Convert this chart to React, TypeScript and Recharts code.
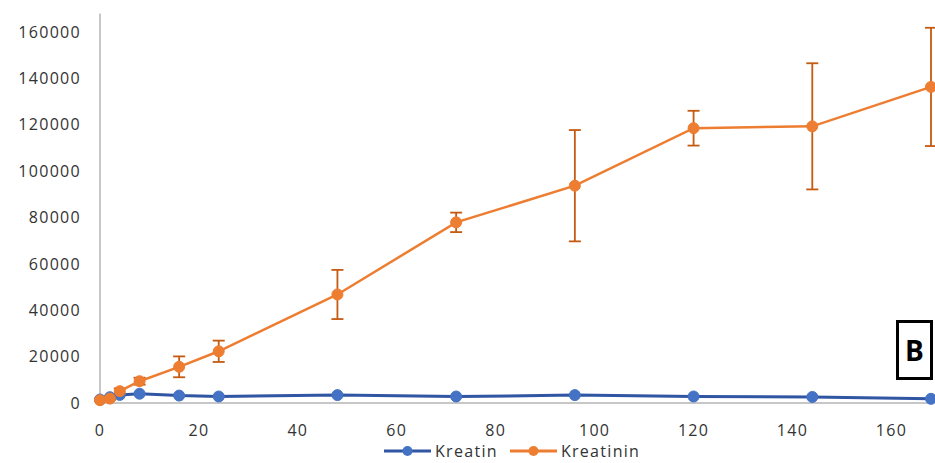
import React from "react";
import { LineChart, Line, XAxis, YAxis, ErrorBar, Legend } from "recharts";

const hours = [0, 2, 4, 8, 16, 24, 48, 72, 96, 120, 144, 168];
const kreatin = [1500, 2500, 3500, 4000, 3200, 2800, 3400, 2800, 3400, 2800, 2600, 1800];
const kreatinin = [1200, 1900, 5100, 9400, 15600, 22300, 46800, 77900, 93700, 118500, 119300, 136300];
const kreatininErr = [300, 500, 1200, 1500, 4500, 4600, 10600, 4200, 24000, 7500, 27200, 25500];
const xTicks = [0, 20, 40, 60, 80, 100, 120, 140, 160];
const yTicks = [0, 20000, 40000, 60000, 80000, 100000, 120000, 140000, 160000];

const data = hours.map((t, i) => ({
  t,
  kreatin: kreatin[i],
  kreatinin: kreatinin[i],
  err: kreatininErr[i],
}));

const BLUE_LINE = "#2F55A3";
const BLUE_DOT = "#4472C4";
const ORANGE = "#ED7D31";
const ORANGE_DARK = "#C55A11";
const FONT = "'Open Sans', sans-serif";
const TEXT = "#333333";

const tickStyle = { fill: TEXT, fontSize: 16, fontFamily: FONT, letterSpacing: 1.3 };

const LegendContent = () => {
  const item = (color: string, dot: string, label: string, gap: number) => (
    <div style={{ display: "flex", alignItems: "center", marginRight: gap }}>
      <svg width={47} height={12} style={{ marginRight: 4 }}>
        <line x1={0} y1={6} x2={47} y2={6} stroke={color} strokeWidth={3} />
        <circle cx={23.5} cy={6} r={5} fill={dot} />
      </svg>
      <span style={{ fontFamily: FONT, fontSize: 16, letterSpacing: 1.3, color: TEXT }}>{label}</span>
    </div>
  );
  return (
    <div
      style={{
        height: 28,
        boxSizing: "border-box",
        paddingTop: 4,
        paddingLeft: 384,
        display: "flex",
        alignItems: "center",
      }}
    >
      {item(BLUE_LINE, BLUE_DOT, "Kreatin", 12)}
      {item(ORANGE, ORANGE, "Kreatinin", 0)}
    </div>
  );
};

export default function App() {
  return (
    <div style={{ position: "absolute", left: 0, top: 0, width: 935, height: 463, background: "#fff" }}>
      <LineChart
        width={935}
        height={463}
        data={data}
        margin={{ top: 13.4, right: 4, left: 0, bottom: 0 }}
      >
        <XAxis
          type="number"
          dataKey="t"
          domain={[0, 168]}
          ticks={xTicks}
          tickLine={false}
          tickSize={0}
          tickMargin={22}
          height={32}
          axisLine={{ stroke: "#B4B4B4", strokeWidth: 1.5 }}
          tick={tickStyle}
          interval={0}
        />
        <YAxis
          type="number"
          domain={[0, 168000]}
          ticks={yTicks}
          width={100}
          tickLine={false}
          tickSize={0}
          tickMargin={19}
          axisLine={{ stroke: "#B4B4B4", strokeWidth: 1.5 }}
          tick={tickStyle}
          interval={0}
        />
        <Legend verticalAlign="bottom" content={<LegendContent />} />
        <Line
          type="linear"
          dataKey="kreatin"
          name="Kreatin"
          stroke={BLUE_LINE}
          strokeWidth={3}
          dot={{ r: 5.5, fill: BLUE_DOT, stroke: BLUE_DOT, strokeWidth: 1 }}
          isAnimationActive={false}
        />
        <Line
          type="linear"
          dataKey="kreatinin"
          name="Kreatinin"
          stroke={ORANGE}
          strokeWidth={2.5}
          dot={{ r: 5.5, fill: ORANGE, stroke: ORANGE, strokeWidth: 1 }}
          isAnimationActive={false}
        >
          <ErrorBar dataKey="err" direction="y" width={6} stroke={ORANGE_DARK} strokeWidth={1.8} isAnimationActive={false} />
        </Line>
      </LineChart>
      <div
        style={{
          position: "absolute",
          left: 896,
          top: 320,
          width: 37,
          height: 60,
          boxSizing: "border-box",
          border: "3px solid #000",
          background: "#fff",
          display: "flex",
          alignItems: "center",
          justifyContent: "center",
          fontFamily: FONT,
          fontWeight: 700,
          fontSize: 28,
          color: "#000",
        }}
      >
        B
      </div>
    </div>
  );
}
